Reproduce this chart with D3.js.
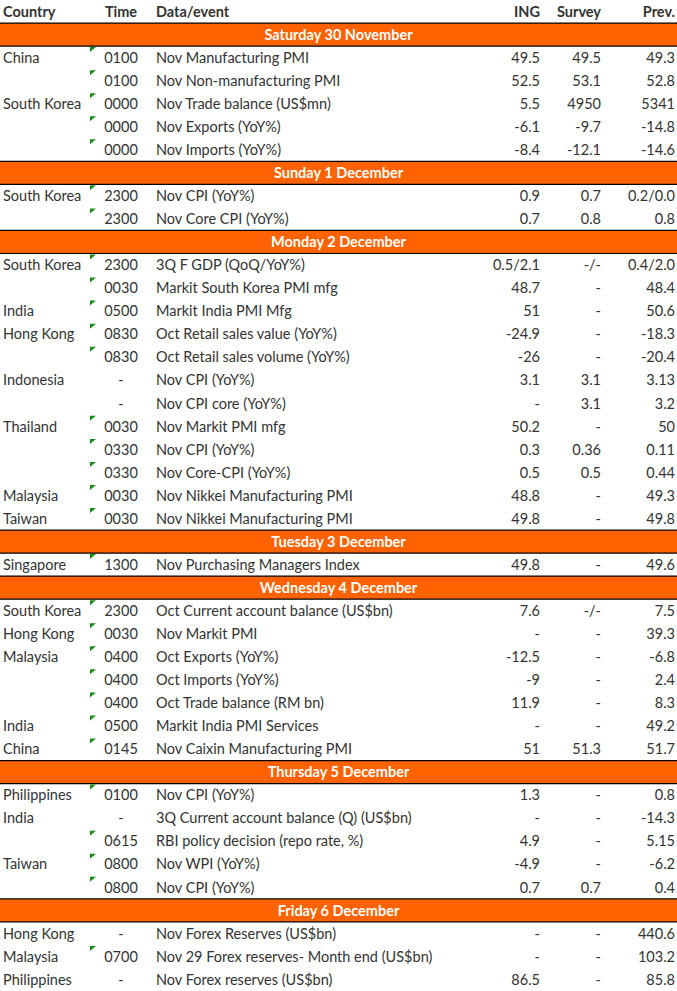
<!DOCTYPE html><html><head><meta charset="utf-8"><script src="https://cdn.jsdelivr.net/npm/d3@7"></script>
<style>body{margin:0;background:#fff}</style></head><body><svg id="c" width="677" height="991"></svg><script>
const columns=["Country","Time","Data/event","ING","Survey","Prev."];
const days=["Saturday 30 November","Sunday 1 December","Monday 2 December","Tuesday 3 December","Wednesday 4 December","Thursday 5 December","Friday 6 December"];
const rowsByDay=[
[["China","0100","Nov Manufacturing PMI","49.5","49.5","49.3"],["","0100","Nov Non-manufacturing PMI","52.5","53.1","52.8"],["South Korea","0000","Nov Trade balance (US$mn)","5.5","4950","5341"],["","0000","Nov Exports (YoY%)","-6.1","-9.7","-14.8"],["","0000","Nov Imports (YoY%)","-8.4","-12.1","-14.6"]],
[["South Korea","2300","Nov CPI (YoY%)","0.9","0.7","0.2/0.0"],["","2300","Nov Core CPI (YoY%)","0.7","0.8","0.8"]],
[["South Korea","2300","3Q F GDP (QoQ/YoY%)","0.5/2.1","-/-","0.4/2.0"],["","0030","Markit South Korea PMI mfg","48.7","-","48.4"],["India","0500","Markit India PMI Mfg","51","-","50.6"],["Hong Kong","0830","Oct Retail sales value (YoY%)","-24.9","-","-18.3"],["","0830","Oct Retail sales volume (YoY%)","-26","-","-20.4"],["Indonesia","-","Nov CPI (YoY%)","3.1","3.1","3.13"],["","-","Nov CPI core (YoY%)","-","3.1","3.2"],["Thailand","0030","Nov Markit PMI mfg","50.2","-","50"],["","0330","Nov CPI (YoY%)","0.3","0.36","0.11"],["","0330","Nov Core-CPI (YoY%)","0.5","0.5","0.44"],["Malaysia","0030","Nov Nikkei Manufacturing PMI","48.8","-","49.3"],["Taiwan","0030","Nov Nikkei Manufacturing PMI","49.8","-","49.8"]],
[["Singapore","1300","Nov Purchasing Managers Index","49.8","-","49.6"]],
[["South Korea","2300","Oct Current account balance (US$bn)","7.6","-/-","7.5"],["Hong Kong","0030","Nov Markit PMI","-","-","39.3"],["Malaysia","0400","Oct Exports (YoY%)","-12.5","-","-6.8"],["","0400","Oct Imports (YoY%)","-9","-","2.4"],["","0400","Oct Trade balance (RM bn)","11.9","-","8.3"],["India","0500","Markit India PMI Services","-","-","49.2"],["China","0145","Nov Caixin Manufacturing PMI","51","51.3","51.7"]],
[["Philippines","0100","Nov CPI (YoY%)","1.3","-","0.8"],["India","-","3Q Current account balance (Q) (US$bn)","-","-","-14.3"],["","0615","RBI policy decision (repo rate, %)","4.9","-","5.15"],["Taiwan","0800","Nov WPI (YoY%)","-4.9","-","-6.2"],["","0800","Nov CPI (YoY%)","0.7","0.7","0.4"]],
[["Hong Kong","-","Nov Forex Reserves (US$bn)","-","-","440.6"],["Malaysia","0700","Nov 29 Forex reserves- Month end (US$bn)","-","-","103.2"],["Philippines","-","Nov Forex reserves (US$bn)","86.5","-","85.8"]]];
const items=[{type:"h"}];
days.forEach((d,i)=>{items.push({type:"b",text:d});rowsByDay[i].forEach(r=>items.push({type:"r",r}));});
const W=677,H=991,rh=H/items.length;
const y=d3.scaleBand().domain(d3.range(items.length)).range([0,H]);
const svg=d3.select("#c"),F="Lato, 'Open Sans', sans-serif",C="#333";
const colX=[3,121,156,540,601,675],anchor=["start","middle","start","end","end","end"];
items.forEach((it,i)=>{
 const g=svg.append("g").attr("transform",`translate(0,${y(i)})`),cy=y.bandwidth()/2;
 if(it.type==="b"){
  g.append("rect").attr("width",W).attr("height",y.bandwidth()).attr("fill","#FF6200");
  g.append("line").attr("x2",W).attr("stroke","#000").attr("stroke-width",1.2);
  g.append("line").attr("x2",W).attr("y1",y.bandwidth()).attr("y2",y.bandwidth()).attr("stroke","#000").attr("stroke-width",1.2);
  g.append("text").attr("x",W/2).attr("y",cy).attr("dy","0.36em").attr("text-anchor","middle").attr("fill","#fff").attr("font-weight","bold").attr("font-family",F).attr("font-size",14.5).text(it.text);
 } else {
  const vals=it.type==="h"?columns:it.r;
  vals.forEach((v,k)=>g.append("text").attr("x",colX[k]).attr("y",cy).attr("dy","0.36em").attr("text-anchor",anchor[k]).attr("fill",C).attr("font-weight",it.type==="h"?"bold":"normal").attr("font-family",F).attr("font-size",14.5).text(v));
  if(it.type==="r"&&it.r[1]!=="-") g.append("path").attr("d","M90,1 L96,1 L90,6 Z").attr("fill","#1a8a1a");
 }
});
</script></body></html>
